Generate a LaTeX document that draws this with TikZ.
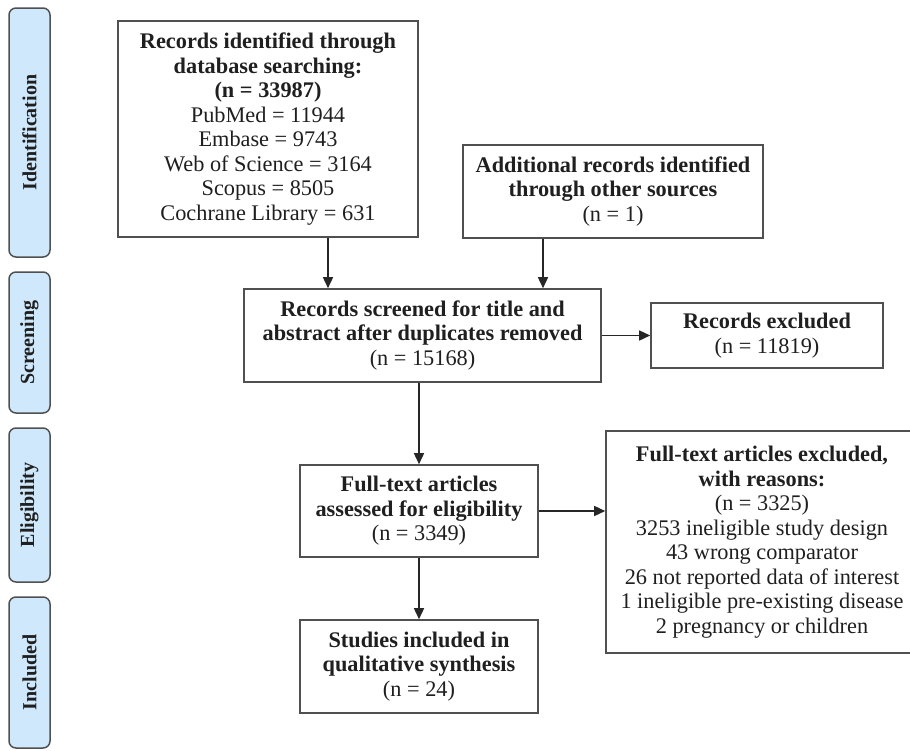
\documentclass[tikz,border=0pt]{standalone}
\usepackage{fontspec}
\setmainfont{Liberation Serif}
\usepackage{xcolor}
\usepackage{tikz}
\usetikzlibrary{arrows.meta,positioning}
\definecolor{fasefondo}{RGB}{207,232,251}
\definecolor{borde}{RGB}{80,80,80}
\tikzset{
  caja/.style={draw=borde,line width=1.6pt,fill=white,align=center,inner sep=2pt,
    font=\fontsize{22.3}{24.5}\selectfont,text=black!88},
  fase/.style={draw=borde,line width=1.5pt,fill=fasefondo,rounded corners=7pt,
    rotate=90,minimum height=41pt,inner sep=0pt,
    font=\fontsize{20}{22}\selectfont\bfseries,text=black!88},
  flecha/.style={-{Triangle[length=11pt,width=10pt]},line width=1.5pt,black!85}
}

\begin{document}
\begin{tikzpicture}[x=1pt,y=-1pt]
\useasboundingbox (0,0) rectangle (910,750);
% fases a la izquierda
\node[fase,minimum width=249pt] (ident) at (29.5,132.5) {Identification};
\node[fase,minimum width=141pt] (scr) at (29.5,342.5) {Screening};
\node[fase,minimum width=154pt] (eleg) at (29.5,505) {Eligibility};
\node[fase,minimum width=151pt] (incl) at (29.5,672.5) {Included};
% cajas
\node[caja,minimum width=300pt,minimum height=216pt] (bases) at (268,129)
  {\textbf{Records identified through}\\ \textbf{database searching:}\\ \textbf{(n = 33987)}\\
   PubMed = 11944\\ Embase = 9743\\ Web of Science = 3164\\ Scopus = 8505\\ Cochrane Library = 631};
\node[caja,minimum width=300pt,minimum height=93pt] (otras) at (613,191.5)
  {\textbf{Additional records identified}\\ \textbf{through other sources}\\ (n = 1)};
\node[caja,minimum width=357pt,minimum height=93pt] (cribado) at (422.5,335.5)
  {\textbf{Records screened for title and}\\ \textbf{abstract after duplicates removed}\\ (n = 15168)};
\node[caja,minimum width=232pt,minimum height=65pt] (excl) at (767,335.5)
  {\textbf{Records excluded}\\ (n = 11819)};
\node[caja,minimum width=238pt,minimum height=92pt] (texto) at (419,511)
  {\textbf{Full-text articles}\\ \textbf{assessed for eligibility}\\ (n = 3349)};
\node[caja,minimum width=312pt,minimum height=222pt] (exclt) at (762,542)
  {\textbf{Full-text articles excluded,}\\ \textbf{with reasons:}\\ (n = 3325)\\
   3253 ineligible study design\\ 43 wrong comparator\\ 26 not reported data of interest\\
   1 ineligible pre-existing disease\\ 2 pregnancy or children};
\node[caja,minimum width=238pt,minimum height=93pt] (final) at (419,666.5)
  {\textbf{Studies included in}\\ \textbf{qualitative synthesis}\\ (n = 24)};
% flechas
\draw[flecha] ([xshift=60pt]bases.south) -- ([xshift=60pt]bases.south |- cribado.north);
\draw[flecha] ([xshift=-70pt]otras.south) -- ([xshift=-70pt]otras.south |- cribado.north);
\draw[flecha] (cribado.east) -- (excl.west);
\draw[flecha] (texto.north |- cribado.south) -- (texto.north);
\draw[flecha] (texto.east) -- (texto.east -| exclt.west);
\draw[flecha] (texto.south) -- (final.north);
\end{tikzpicture}
\end{document}
